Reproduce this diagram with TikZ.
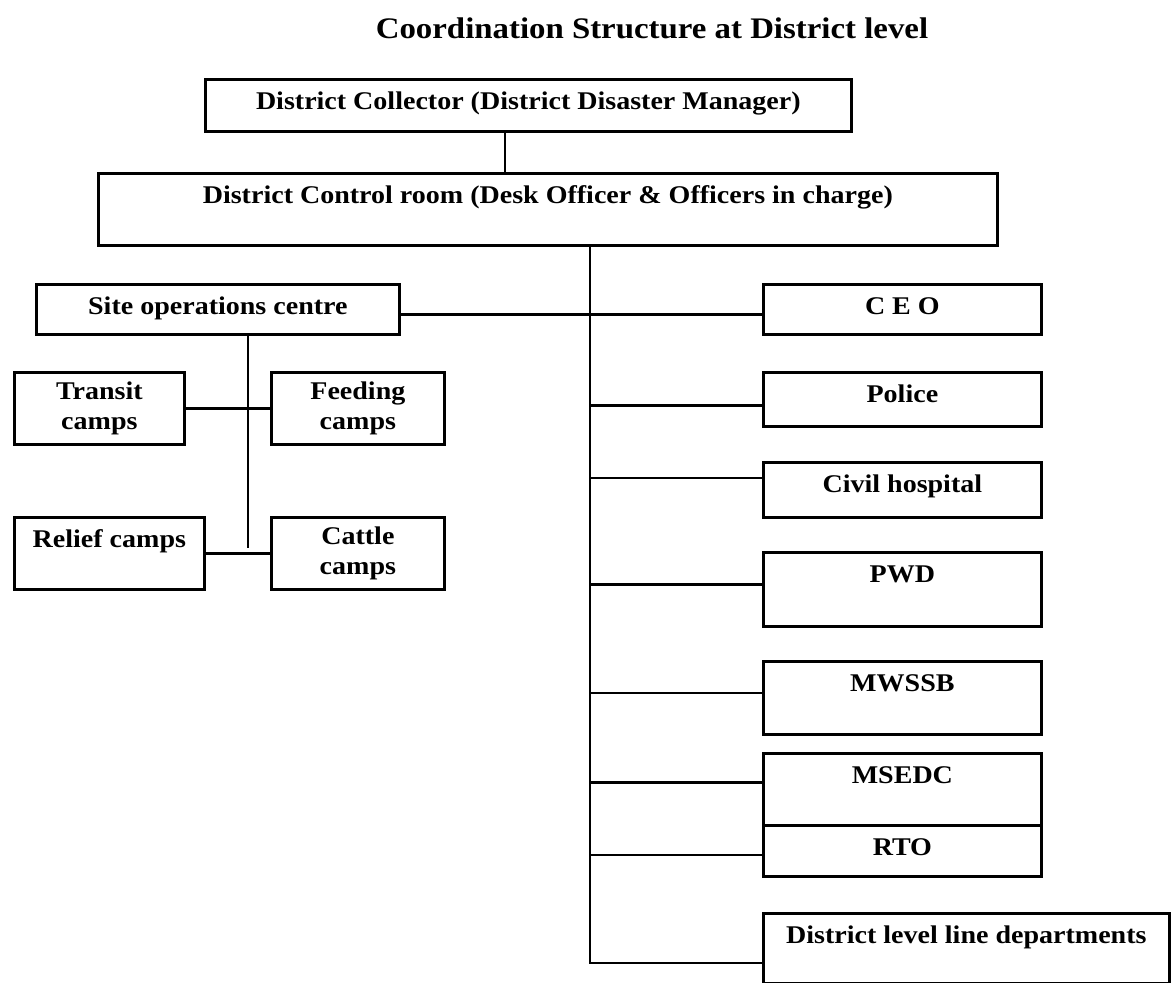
\documentclass[tikz,border=0pt]{standalone}
\usepackage{fontspec}
\setmainfont[FakeStretch=1.1]{Liberation Serif}
\usetikzlibrary{calc}

\begin{document}
\begin{tikzpicture}
  [x=0.02cm,y=-0.02cm,
  box/.style={draw=black,line width=1.6pt,inner sep=0pt,text height=0.6cm,font=\fontsize{14.5}{17}\selectfont\bfseries,anchor=north west},
  twobox/.style={draw=black,line width=1.6pt,inner sep=0pt,align=center,minimum height=1.44cm,font=\fontsize{14.5}{17}\selectfont\bfseries,anchor=north west},
  link/.style={draw=black,line width=1.3pt}]
  \useasboundingbox (0,0) rectangle (1171,983);

  \node[font=\fontsize{17}{20}\selectfont\bfseries] (title) at (652,28) {Coordination Structure at District level};

  \node[box,minimum width=12.92cm,text depth=0.44cm] (dc) at (204,78) {District Collector (District Disaster Manager)};
  \node[box,minimum width=17.98cm,text depth=0.84cm] (cr) at (97,172) {District Control room (Desk Officer \& Officers in charge)};

  \node[box,minimum width=7.26cm,text depth=0.4cm] (soc) at (35,283) {Site operations centre};
  \node[twobox,minimum width=3.4cm] (transit) at (13,371) {Transit\\camps};
  \node[twobox,minimum width=3.46cm] (feeding) at (270,371) {Feeding\\camps};
  \node[box,minimum width=3.8cm,text depth=0.84cm] (relief) at (13,516) {Relief camps};
  \node[twobox,minimum width=3.46cm] (cattle) at (270,516) {Cattle\\camps};

  \node[box,minimum width=5.56cm,text depth=0.4cm] (ceo) at (762,283) {C E O};
  \node[box,minimum width=5.56cm,text depth=0.48cm] (police) at (762,371) {Police};
  \node[box,minimum width=5.56cm,text depth=0.5cm] (civil) at (762,461) {Civil hospital};
  \node[box,minimum width=5.56cm,text depth=0.88cm] (pwd) at (762,551) {PWD};
  \node[box,minimum width=5.56cm,text depth=0.86cm] (mwssb) at (762,660) {MWSSB};
  \node[box,minimum width=5.56cm,text depth=0.84cm] (msedc) at (762,752) {MSEDC};
  \node[box,minimum width=5.56cm,text depth=0.42cm] (rto) at (762,824) {RTO};
  \node[box,minimum width=8.12cm,text depth=0.8cm] (dlld) at (762,912) {District level line departments};

  \coordinate (k) at (505,0);
  \draw[link] (dc.south -| k) -- (cr.north -| k);

  \coordinate (sp) at (590,963);
  \draw[link] (cr.south -| sp) -- (sp) -- (dlld.west |- sp);
  \foreach \n/\dy in {police/6,civil/-12,pwd/-5,mwssb/-5,msedc/-7,rto/4}
  {
    \coordinate (b) at ($(\n.west)+(0,\dy)$);
    \draw[link] (sp |- b) -- (b);
  }

  \draw[link] ($(soc.east)+(0,5)$) -- ($(ceo.west)+(0,5)$);
  \coordinate (sv) at (248,548);
  \draw[link] (soc.south -| sv) -- (sv);
  \draw[link] (transit.east) -- (feeding.west);
  \draw[link] (relief.east) -- (cattle.west);

\end{tikzpicture}
\end{document}
